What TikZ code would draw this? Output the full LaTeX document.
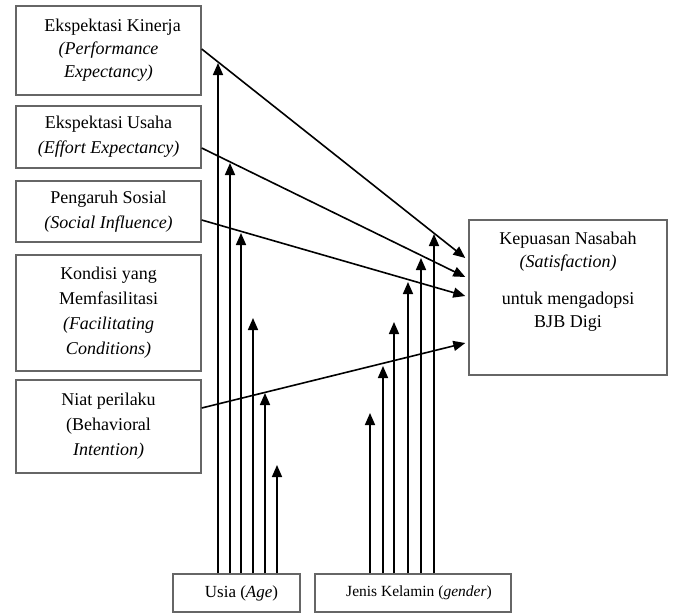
\documentclass[tikz,border=0pt]{standalone}
\usepackage{fontspec}
\setmainfont{Liberation Serif}
\usetikzlibrary{arrows.meta}
\tikzset{
  kotak/.style={draw=black!60, line width=1.4pt, inner sep=0pt, align=center,
    font=\fontsize{18}{25}\selectfont},
  kotakbawah/.style={kotak, font=\fontsize{17}{20}\selectfont},
  panah/.style={-{Triangle[length=12pt,width=10pt]}, line width=1.6pt},
}
\newcommand{\PanahNaik}[2]{%
  \foreach \x/\puncak in {#2} {
    \draw[panah] (#1.north -| \x,\puncak) -- (\x,\puncak);
  }
}

\begin{document}
\begin{tikzpicture}[x=1pt,y=-1pt]
    \useasboundingbox (0,0) rectangle (673,614);

    % variabel bebas
    \node[kotak, minimum width=185pt, minimum height=89pt] (ek) at (108.5,50.5)
      {\hspace*{8pt}Ekspektasi Kinerja\\[-2pt] \textit{(Performance}\\[-2pt] \textit{Expectancy)}};
    \node[kotak, minimum width=185pt, minimum height=62pt] (eu) at (108.5,137)
      {Ekspektasi Usaha\\ \textit{(Effort Expectancy)}};
    \node[kotak, minimum width=185pt, minimum height=61pt] (ps) at (108.5,211.5)
      {Pengaruh Sosial\\ \textit{(Social Influence)}};
    \node[kotak, minimum width=185pt, minimum height=116pt] (kf) at (108.5,313)
      {Kondisi yang\\ Memfasilitasi\\ \textit{(Facilitating}\\ \textit{Conditions)}};
    \node[kotak, minimum width=185pt, minimum height=93pt] (np) at (108.5,426.5)
      {Niat perilaku\\ (Behavioral\\ \textit{Intention)}};

    % variabel terikat
    \node[kotak, minimum width=198pt, minimum height=155pt] (kp) at (568,297.5) {};
    \node[align=center, font=\fontsize{18}{23}\selectfont] (kpteks) at (568,281.5)
      {Kepuasan Nasabah\\ \textit{(Satisfaction)}\\[14pt] untuk mengadopsi\\ BJB Digi};

    % moderator
    \node[kotakbawah, minimum width=127pt, minimum height=38pt] (us) at (236.5,593)
      {\hspace*{10pt}Usia (\textit{Age})};
    \node[kotakbawah, minimum width=196pt, minimum height=38pt, font=\fontsize{15.5}{18}\selectfont] (jk) at (413,593)
      {\hspace*{12pt}Jenis Kelamin (\textit{gender})};

    % pengaruh langsung
    \draw[panah] ([yshift=1.5pt]ek.east) -- ([xshift=-3pt,yshift=39.5pt]kp.west);
    \draw[panah] ([yshift=-11pt]eu.east) -- ([xshift=-3pt,yshift=20.5pt]kp.west);
    \draw[panah] ([yshift=-8.5pt]ps.east) -- ([xshift=-3pt,yshift=1.5pt]kp.west);
    \draw[panah] ([yshift=18.5pt]np.east) -- ([xshift=-3pt,yshift=-45.5pt]kp.west);

    % efek moderasi
    \PanahNaik{us}{218/63,230/163,241/233,253/318,265/393,277/465}
    \PanahNaik{jk}{370/413,383/366,394/322,408/282,421/258,434/234}
  \end{tikzpicture}
\end{document}
